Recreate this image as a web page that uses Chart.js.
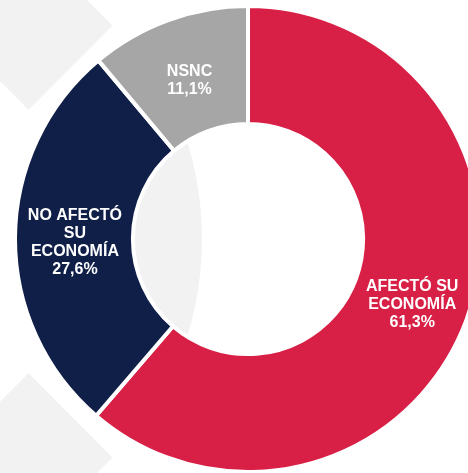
<!DOCTYPE html>
<html>
<head>
<meta charset="utf-8">
<script src="https://cdn.jsdelivr.net/npm/chart.js@4"></script>
<style>
    html, body { margin: 0; padding: 0; background: #fff; overflow: hidden; }
    body { width: 468px; height: 473px; position: relative; }
    .deco {
        position: absolute; width: 119px; height: 119px;
        background: #f2f2f2; transform: rotate(45deg);
    }
    #wrap { position: absolute; left: 13px; top: 4px; width: 470px; height: 470px; }
</style>
</head>
<body>
<div class="deco" style="left:-31px; top:-34px;"></div>
<div class="deco" style="left:-31px; top:398px;"></div>
<div id="wrap"><canvas id="pieChart"></canvas></div>
<script>
const categories = ['AFECTÓ SU ECONOMÍA', 'NO AFECTÓ SU ECONOMÍA', 'NSNC'];
const labelLines = [['AFECTÓ SU', 'ECONOMÍA'], ['NO AFECTÓ', 'SU', 'ECONOMÍA'], ['NSNC']];
const values = [61.3, 27.6, 11.1];
const colors = ['#d81f45', '#0f1f48', '#a6a6a6'];

// light gray lens seen through the hole
const holeShape = {
    id: 'holeShape',
    beforeDatasetsDraw(chart) {
        const arc = chart.getDatasetMeta(0).data[0];
        const { x, y, innerRadius } = arc.getProps(['x', 'y', 'innerRadius'], true);
        const ctx = chart.ctx;
        ctx.save();
        ctx.beginPath();
        ctx.arc(x, y, innerRadius, 0, Math.PI * 2);
        ctx.clip();
        ctx.fillStyle = '#f2f2f2';
        ctx.beginPath();
        ctx.arc(x - innerRadius * 0.4 - 331, y, 331, 0, Math.PI * 2);
        ctx.fill();
        ctx.restore();
    }
};

const sliceLabels = {
    id: 'sliceLabels',
    afterDatasetsDraw(chart) {
        const ctx = chart.ctx;
        const meta = chart.getDatasetMeta(0);
        ctx.save();
        ctx.fillStyle = '#fff';
        ctx.font = 'bold 16px "Liberation Sans", Arial, sans-serif';
        ctx.textAlign = 'center';
        ctx.textBaseline = 'middle';
        meta.data.forEach((el, i) => {
            const pos = el.tooltipPosition();
            const lines = labelLines[i].concat(values[i].toFixed(1).replace('.', ',') + '%');
            const lh = 18;
            const top = pos.y - (lines.length - 1) * lh / 2 + 5;
            lines.forEach((t, j) => ctx.fillText(t, pos.x + 1, top + j * lh));
        });
        ctx.restore();
    }
};

new Chart(document.getElementById('pieChart').getContext('2d'), {
    type: 'doughnut',
    data: {
        labels: categories,
        datasets: [{
            data: values,
            backgroundColor: colors,
            borderColor: '#fff',
            borderWidth: 4,
            hoverOffset: 0,
            hoverBorderWidth: 4
        }]
    },
    options: {
        responsive: true,
        maintainAspectRatio: false,
        animation: false,
        cutout: '49.4%',
        layout: { padding: 0 },
        plugins: {
            legend: { display: false },
            tooltip: { enabled: false }
        }
    },
    plugins: [holeShape, sliceLabels]
});
</script>
</body>
</html>
